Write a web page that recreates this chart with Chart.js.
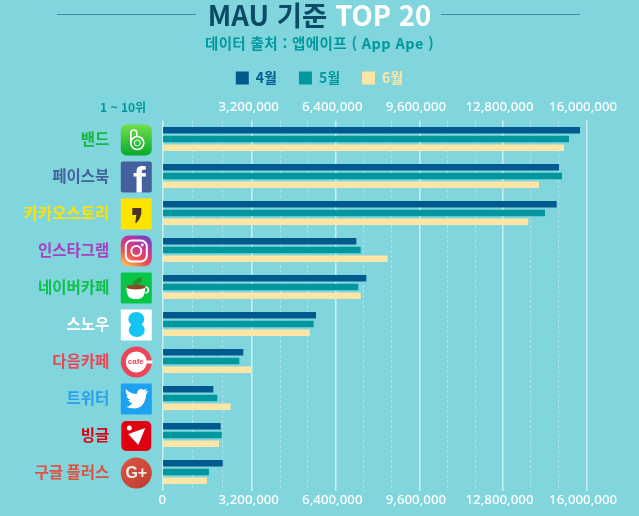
<!DOCTYPE html>
<html lang="ko">
<head>
<meta charset="utf-8">
<title>MAU 기준 TOP 20</title>
<script src="https://cdn.jsdelivr.net/npm/chart.js@4/dist/chart.umd.min.js"></script>
<style>
  html, body { margin: 0; padding: 0; background: #81d6de; }
  #wrap { position: relative; width: 639px; height: 516px; overflow: hidden; font-family: "Noto Sans CJK KR", sans-serif; }
  #wrap canvas { position: absolute; left: 0; top: 0; }
  .rule { position: absolute; top: 13.5px; height: 1.5px; background: #3b8da3; }
  #title { position: absolute; left: 0; right: 0; top: -1px; text-align: center; font-size: 27.5px; line-height: 30px; font-weight: 700; color: #0d4a68; }
  #title span { color: #fff; }
  #source { position: absolute; left: 0; right: 0; top: 33px; text-align: center; font-size: 14.5px; line-height: 20px; font-weight: 700; color: #00979d; letter-spacing: 0.4px; }
  #rank { position: absolute; left: 100px; top: 99px; font-size: 12px; line-height: 16px; font-weight: 700; color: #00979d; }
</style>
</head>
<body>
<div id="wrap">
  <canvas id="chart" width="639" height="516"></canvas>
  <div class="rule" style="left:57px;width:139px"></div>
  <div class="rule" style="left:441px;width:139px"></div>
  <div id="title">MAU 기준 <span>TOP 20</span></div>
  <div id="source">데이터 출처 : 앱에이프 ( App Ape )</div>
  <div id="rank">1 ~ 10위</div>
</div>
<script>
const apps = ['밴드', '페이스북', '카카오스토리', '인스타그램', '네이버카페', '스노우', '다음카페', '트위터', '빙글', '구글 플러스'];
const appColors = ['#12b83c', '#44639c', '#fde300', '#a93fc0', '#0fc04a', '#ffffff', '#ee4455', '#2a9fea', '#e00012', '#e2503f'];
const april = [15747000, 14943000, 14855000, 7185000, 7567000, 5642000, 2859000, 1711000, 1994000, 2071000];
const may = [15326000, 15058000, 14408000, 7353000, 7261000, 5554000, 2706000, 1864000, 2033000, 1546000];
const june = [15135000, 14178000, 13768000, 8387000, 7353000, 5401000, 3181000, 2377000, 1929000, 1470000];

// the picture's first interval is wider than the others, so its "0" sits a little below real zero
const axisStart = -241000;
const axisEnd = 18005000;
const majorTicks = [axisStart, 3200000, 6400000, 9600000, 12800000, 16000000];
const majorLabels = ['  0', '3,200,000', '6,400,000', '9,600,000', '12,800,000', '16,000,000'];
const minorTicks = [907000, 2082000, 4267000, 5333000, 7467000, 8533000, 10667000, 11733000, 13867000, 14933000];

const tickFont = { family: 'Noto Sans', size: 13.3, weight: '500' };

function rr(c, x, y, w, h, r, fill) {
    c.beginPath();
    c.roundRect(x, y, w, h, r);
    c.fillStyle = fill;
    c.fill();
}

function circle(c, x, y, r, fill) {
    c.beginPath();
    c.arc(x, y, r, 0, Math.PI * 2);
    c.fillStyle = fill;
    c.fill();
}

function grad(c, x0, y0, x1, y1, stops) {
    const g = c.createLinearGradient(x0, y0, x1, y1);
    stops.forEach((s, i) => g.addColorStop(i / (stops.length - 1), s));
    return g;
}

// small hand drawn app icons, each one centred on 0,0 and 31px wide
const iconDrawers = [
    function band(c) {
        rr(c, -15.5, -15.5, 31, 31, 6, grad(c, 0, -15, 0, 15, ['#6fe04a', '#0aa92c']));
        c.strokeStyle = '#fff';
        c.lineWidth = 1.6;
        c.beginPath();
        c.arc(1, 3, 6.5, 0, Math.PI * 2);
        c.moveTo(-5.5, 3);
        c.lineTo(-5.5, -7);
        c.arc(-2.5, -7, 3, Math.PI, 0);
        c.lineTo(0.5, -3);
        c.stroke();
        c.lineWidth = 1;
        c.beginPath();
        c.arc(1, 3, 3, 0, Math.PI * 2);
        c.stroke();
    },
    function facebook(c) {
        rr(c, -15.5, -15.5, 31, 31, 2, '#45619d');
        c.save();
        c.beginPath();
        c.rect(-15.5, -15.5, 31, 31);
        c.clip();
        c.fillStyle = '#fff';
        c.font = 'bold 38px "Liberation Sans"';
        c.textAlign = 'center';
        c.textBaseline = 'alphabetic';
        c.fillText('f', 3, 17);
        c.restore();
    },
    function kakaoStory(c) {
        rr(c, -15.5, -15.5, 31, 31, 1, '#fde300');
        c.fillStyle = '#4a3426';
        c.beginPath();
        c.moveTo(-4, -6);
        c.lineTo(5, -6);
        c.lineTo(5, 0);
        c.quadraticCurveTo(4, 5, 0, 9);
        c.lineTo(-1, 9);
        c.lineTo(0, 1);
        c.lineTo(-4, 1);
        c.closePath();
        c.fill();
    },
    function instagram(c) {
        rr(c, -15.5, -15.5, 31, 31, 8, grad(c, -9, 16, 9, -16, ['#fdc15a', '#ee4d4d', '#c3349c', '#6a46c4']));
        c.strokeStyle = '#fff';
        c.lineWidth = 2;
        c.beginPath();
        c.roundRect(-10.5, -10.5, 21, 21, 6);
        c.stroke();
        c.beginPath();
        c.arc(0, 0, 5, 0, Math.PI * 2);
        c.stroke();
        circle(c, 6, -6, 1.4, '#fff');
    },
    function naverCafe(c) {
        rr(c, -15.5, -15.5, 31, 31, 1, '#07c646');
        c.strokeStyle = '#fff';
        c.lineWidth = 1.6;
        c.beginPath();
        c.arc(9, 2, 3, -Math.PI / 2, Math.PI / 2);
        c.stroke();
        c.fillStyle = '#fff';
        c.beginPath();
        c.moveTo(-10, -1);
        c.lineTo(9, -1);
        c.quadraticCurveTo(9, 11, 2, 11);
        c.lineTo(-3, 11);
        c.quadraticCurveTo(-10, 11, -10, -1);
        c.fill();
        c.fillStyle = '#8a4a2a';
        c.beginPath();
        c.ellipse(-0.5, -1, 9.5, 2.5, 0, 0, Math.PI * 2);
        c.fill();
        c.fillStyle = '#2f8f2a';
        c.beginPath();
        c.moveTo(-4, -2);
        c.quadraticCurveTo(-3, -10, 6, -11);
        c.quadraticCurveTo(6, -3, -4, -2);
        c.fill();
    },
    function snow(c) {
        rr(c, -15.5, -15.5, 31, 31, 1, '#fff');
        c.fillStyle = '#14c4f2';
        c.beginPath();
        c.ellipse(0, -6, 8, 7, 0, 0, Math.PI * 2);
        c.ellipse(0.5, 5, 8, 7, 0, 0, Math.PI * 2);
        c.fill();
        c.fillRect(-5, -3, 10, 7);
    },
    function daumCafe(c) {
        circle(c, 0, 0, 15.5, '#ec4458');
        circle(c, 0, 0, 10.5, '#fff');
        c.fillStyle = '#fff';
        c.fillRect(8, -1.5, 8, 3);
        c.fillStyle = '#ec4458';
        c.font = 'bold 8px "Liberation Sans"';
        c.textAlign = 'center';
        c.textBaseline = 'middle';
        c.fillText('cafe', -0.5, 0);
    },
    function twitter(c) {
        rr(c, -15.5, -15.5, 31, 31, 1, '#1da1f2');
        c.fillStyle = '#fff';
        c.beginPath();
        c.moveTo(-10, 8);
        c.quadraticCurveTo(8, 14, 10, -5);
        c.lineTo(12, -8);
        c.lineTo(9, -7.5);
        c.lineTo(10.5, -10.5);
        c.lineTo(7.5, -9);
        c.quadraticCurveTo(2, -12, 0.5, -5);
        c.quadraticCurveTo(-6, -5, -10.5, -10);
        c.quadraticCurveTo(-11, -5, -8, -3);
        c.lineTo(-10, -3.5);
        c.quadraticCurveTo(-9, 0, -6, 1);
        c.lineTo(-8, 1.2);
        c.quadraticCurveTo(-7, 4, -4, 4.5);
        c.quadraticCurveTo(-6.5, 7, -10, 8);
        c.fill();
    },
    function vingle(c) {
        rr(c, -15, -15, 30, 30, 5, '#e00012');
        circle(c, -7, -8, 2.5, '#fff');
        c.fillStyle = '#fff';
        c.beginPath();
        c.moveTo(-8, -2);
        c.lineTo(9, -8);
        c.lineTo(2, 9);
        c.closePath();
        c.fill();
    },
    function googlePlus(c) {
        circle(c, 0, 0, 15.5, grad(c, -10, -12, 10, 12, ['#d9523f', '#c23f35']));
        c.fillStyle = '#f3ede8';
        c.font = 'bold 16px "Liberation Sans"';
        c.textAlign = 'center';
        c.textBaseline = 'middle';
        c.fillText('G+', 0, 0.5);
    }
];

const appIcons = {
    id: 'appIcons',
    afterDraw(chart) {
        const c = chart.ctx;
        const y = chart.scales.y;
        iconDrawers.forEach((draw, i) => {
            c.save();
            c.translate(136.3, y.getPixelForTick(i) + 1);
            draw(c);
            c.restore();
        });
    }
};

const isMajor = v => majorTicks.includes(v);

function setTicks(scale) {
    scale.ticks = majorTicks.concat(minorTicks).sort((a, b) => a - b).map(v => ({ value: v }));
}

function valueLabel(v) {
    const i = majorTicks.indexOf(v);
    return i < 0 ? '' : majorLabels[i];
}

function bars(label, data, color) {
    return {
        label,
        data,
        backgroundColor: color,
        base: axisStart,
        categoryPercentage: 0.714,
        barPercentage: 0.74
    };
}

new Chart(document.getElementById('chart'), {
    type: 'bar',
    data: {
        labels: apps,
        datasets: [
            bars('4월', april, '#005a8e'),
            bars('5월', may, '#00979e'),
            bars('6월', june, '#fde5a6')
        ]
    },
    plugins: [appIcons],
    options: {
        indexAxis: 'y',
        responsive: false,
        animation: false,
        layout: { padding: { top: 49 } },
        plugins: {
            tooltip: { enabled: false },
            legend: {
                labels: {
                    boxWidth: 13,
                    boxHeight: 13,
                    padding: 22,
                    font: { family: 'Noto Sans CJK KR', size: 14, weight: '700' },
                    generateLabels(chart) {
                        const textColors = ['#005a8e', '#00979e', '#fde5a6'];
                        return chart.data.datasets.map((d, i) => ({
                            text: d.label,
                            fillStyle: d.backgroundColor,
                            strokeStyle: d.backgroundColor,
                            lineWidth: 0,
                            fontColor: textColors[i],
                            datasetIndex: i
                        }));
                    }
                }
            }
        },
        scales: {
            x: {
                position: 'bottom',
                min: axisStart,
                max: axisEnd,
                afterBuildTicks: setTicks,
                afterFit(scale) { scale.height = 25.5; },
                border: { display: false, dash: ctx => (isMajor(ctx.tick.value) ? [] : [2, 3]) },
                grid: {
                    drawTicks: false,
                    color: ctx => (isMajor(ctx.tick.value) ? 'rgba(255,255,255,0.6)' : 'rgba(255,255,255,0.45)'),
                    lineWidth: ctx => (isMajor(ctx.tick.value) ? 1.5 : 1)
                },
                ticks: {
                    autoSkip: false,
                    maxRotation: 0,
                    padding: 2,
                    labelOffset: -3.5,
                    color: '#ffffff',
                    font: tickFont,
                    callback: valueLabel
                }
            },
            xTop: {
                position: 'top',
                min: axisStart,
                max: axisEnd,
                afterBuildTicks: setTicks,
                afterFit(scale) { scale.height = 25.5; },
                border: { display: false },
                grid: { display: false, drawTicks: false },
                ticks: {
                    autoSkip: false,
                    maxRotation: 0,
                    padding: 5,
                    labelOffset: -3.5,
                    color: '#ffffff',
                    font: tickFont,
                    callback: v => (v === axisStart ? '' : valueLabel(v))
                }
            },
            y: {
                afterFit(scale) {
                    scale.width = 162.3;
                    // the big tick padding would otherwise be reserved above and below the axis too
                    scale.paddingTop = 0;
                    scale.paddingBottom = 0;
                },
                border: { display: false },
                grid: { display: false, drawTicks: false },
                ticks: {
                    padding: 53,
                    color: ctx => appColors[ctx.index],
                    font: { family: 'Noto Sans CJK KR', size: 15.5, weight: '700' }
                }
            }
        }
    }
});
</script>
</body>
</html>
